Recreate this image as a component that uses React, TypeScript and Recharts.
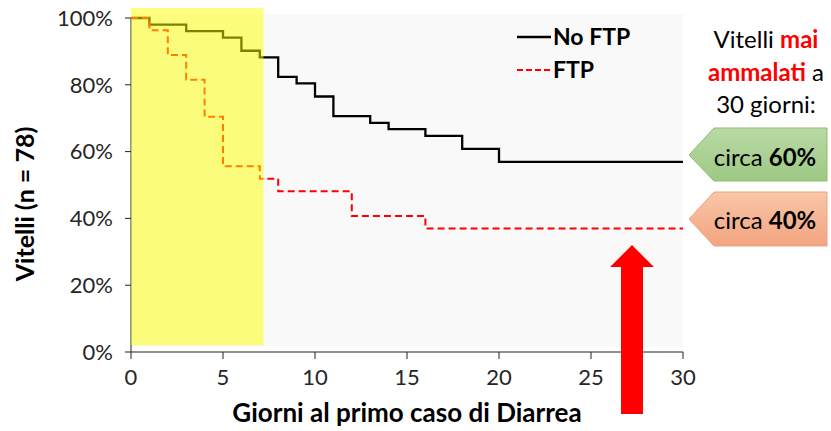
import { LineChart, Line, XAxis, YAxis, ReferenceArea, Legend } from 'recharts';

// Kaplan-Meier style survival steps (percent still healthy)
const noFtpDays = [0, 1, 3, 5, 6, 7, 8, 9, 10, 11, 13, 14, 16, 18, 20, 30];
const noFtpPct = [100, 98.0, 96.1, 94.1, 90.2, 88.2, 82.4, 80.4, 76.5, 70.6, 68.6, 66.7, 64.7, 60.8, 56.9, 56.9];
const ftpDays = [0, 1, 2, 3, 4, 5, 7, 8, 12, 16, 30];
const ftpPct = [100, 96.3, 88.9, 81.5, 70.4, 55.6, 51.9, 48.1, 40.7, 37.0, 37.0];

const seriesNames = ['No FTP', 'FTP'];
const xTicks = [0, 5, 10, 15, 20, 25, 30];
const yTicks = [0, 20, 40, 60, 80, 100];
const yellowWindow = [0, 7.2];

const noFtpData = noFtpDays.map((d, i) => ({ day: d, pct: noFtpPct[i] }));
const ftpData = ftpDays.map((d, i) => ({ day: d, pct: ftpPct[i] }));

const FONT = 'Lato, "Open Sans", sans-serif';

function LegendBox() {
  return (
    <svg width={170} height={70} style={{ display: 'block' }}>
      <line x1={2} x2={36} y1={17} y2={17} stroke="#000" strokeWidth={2.3} />
      <text x={38} y={17} dy="0.36em" fontFamily={FONT} fontWeight={700} fontSize={23} fill="#000">{seriesNames[0]}</text>
      <line x1={2} x2={36} y1={50} y2={50} stroke="#ff0000" strokeWidth={2.2} strokeDasharray="6 3" />
      <text x={38} y={50} dy="0.36em" fontFamily={FONT} fontWeight={700} fontSize={23} fill="#000">{seriesNames[1]}</text>
    </svg>
  );
}

export default function App() {
  return (
    <div style={{ position: 'absolute', left: 0, top: 0, width: 831, height: 431, background: '#fff' }}>
      <LineChart width={831} height={431} margin={{ top: 18, right: 148, bottom: 29, left: 0 }}>
        <ReferenceArea x1={0} x2={30} y1={1.5} y2={101.2} fill="#f9f9f9" fillOpacity={1} stroke="none" ifOverflow="visible" zIndex={-100} />
        <XAxis
          dataKey="day"
          type="number"
          domain={[0, 30]}
          ticks={xTicks}
          height={50}
          stroke="#222"
          tickSize={7}
          tickMargin={10}
          tick={{ fill: '#262626', fontSize: 22, fontFamily: FONT }}
        />
        <YAxis
          dataKey="pct"
          type="number"
          domain={[0, 100]}
          ticks={yTicks}
          width={131}
          stroke="#222"
          tickSize={6}
          tickMargin={12}
          tickFormatter={(v) => `${v}%`}
          tick={{ fill: '#262626', fontSize: 22, fontFamily: FONT }}
        />
        <Line data={noFtpData} dataKey="pct" name={seriesNames[0]} type="stepAfter" stroke="#000" strokeWidth={2.3} dot={false} isAnimationActive={false} />
        <Line data={ftpData} dataKey="pct" name={seriesNames[1]} type="stepAfter" stroke="#ff0000" strokeWidth={2} strokeDasharray="7 4" dot={false} isAnimationActive={false} />
        <ReferenceArea x1={yellowWindow[0]} x2={yellowWindow[1]} y1={2} y2={103} fill="#ffff00" fillOpacity={0.5} stroke="none" ifOverflow="visible" zIndex={800} />
        <Legend
          layout="horizontal"
          verticalAlign="middle"
          align="center"
          content={() => <LegendBox />}
          wrapperStyle={{ left: 515, top: 20, width: 170, height: 70 }}
        />
      </LineChart>
      <svg width={831} height={431} style={{ position: 'absolute', left: 0, top: 0, pointerEvents: 'none' }}>
        <defs>
          <linearGradient id="gGreen" x1="0" y1="0" x2="0" y2="1">
            <stop offset="0" stopColor="#b9d9a5" />
            <stop offset="1" stopColor="#9dc983" />
          </linearGradient>
          <linearGradient id="gSalmon" x1="0" y1="0" x2="0" y2="1">
            <stop offset="0" stopColor="#f8c6a8" />
            <stop offset="1" stopColor="#f2a47f" />
          </linearGradient>
        </defs>
        <text x={407} y={413} dy="0.36em" textAnchor="middle" fontFamily={FONT} fontSize={26} fontWeight={700} fill="#000">
          Giorni al primo caso di Diarrea
        </text>
        <text x={25} y={204} dy="0.36em" textAnchor="middle" transform="rotate(-90 25 204)" fontFamily={FONT} fontSize={25} fontWeight={700} fill="#000">
          Vitelli (n = 78)
        </text>
        <text x={766} textAnchor="middle" fontFamily={FONT} fontSize={24} fill="#000">
          <tspan x={766} y={48}>Vitelli <tspan fill="#ff0000" fontWeight={700}>mai</tspan></tspan>
          <tspan x={766} y={81}><tspan fill="#ff0000" fontWeight={700}>ammalati</tspan> a</tspan>
          <tspan x={766} y={113}>30 giorni:</tspan>
        </text>
        <polygon points="689,155 714,128 827,128 827,181 714,181" fill="url(#gGreen)" stroke="#8cbf6e" strokeWidth={1} />
        <text x={765} y={157} dy="0.36em" textAnchor="middle" fontFamily={FONT} fontSize={24} fill="#000">
          circa <tspan fontWeight={700}>60%</tspan>
        </text>
        <polygon points="689,219 714,192 827,192 827,246 714,246" fill="url(#gSalmon)" stroke="#eea282" strokeWidth={1} />
        <text x={765} y={220} dy="0.36em" textAnchor="middle" fontFamily={FONT} fontSize={24} fill="#000">
          circa <tspan fontWeight={700}>40%</tspan>
        </text>
        <polygon points="632,245 654,267 643,267 643,414 621,414 621,267 610,267" fill="#ff0000" />
      </svg>
    </div>
  );
}
